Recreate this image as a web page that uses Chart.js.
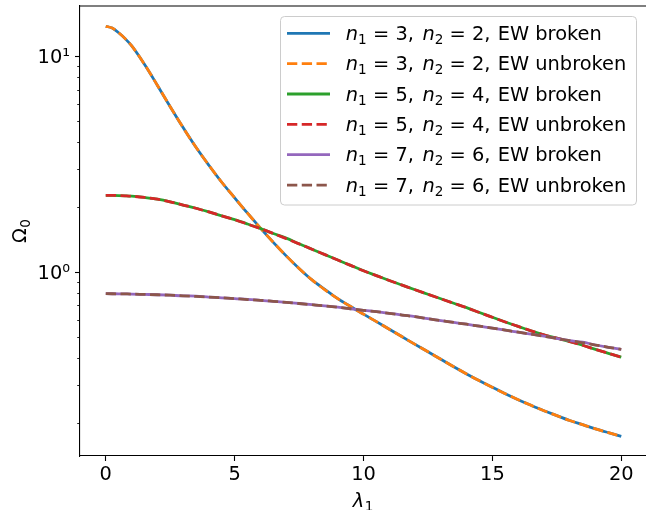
<!DOCTYPE html>
<html>
<head>
<meta charset="utf-8">
<script src="https://cdn.jsdelivr.net/npm/chart.js@4.4.1/dist/chart.umd.min.js"></script>
<style>
html,body{margin:0;padding:0;background:#ffffff;}
#wrap{width:646px;height:510px;position:relative;}
</style>
</head>
<body>
<div id="wrap"><canvas id="c" width="646" height="510"></canvas></div>
<script>
// ---- data ----
const lambda1 = [0,0.25,0.5,0.75,1,1.5,2,2.5,3,3.5,4,4.5,5,5.5,6,6.5,7,7.5,8,8.5,9,9.5,10,10.5,11,11.5,12,12.5,13,13.5,14,14.5,15,15.5,16,16.5,17,17.5,18,18.5,19,19.5,20];

const omegaN3Broken   = [13.8,13.55,12.88,12.1,11.22,9.20,7.36,5.85,4.68,3.79,3.13,2.61,2.21,1.875,1.600,1.374,1.189,1.040,0.920,0.831,0.753,0.692,0.638,0.589,0.543,0.501,0.462,0.427,0.394,0.364,0.337,0.313,0.292,0.273,0.256,0.241,0.2275,0.216,0.205,0.196,0.1875,0.180,0.173];
const omegaN3Unbroken = [13.8,13.55,12.88,12.1,11.22,9.20,7.36,5.85,4.68,3.79,3.13,2.61,2.21,1.875,1.600,1.374,1.189,1.040,0.920,0.828,0.753,0.692,0.638,0.589,0.543,0.501,0.462,0.427,0.394,0.364,0.337,0.313,0.292,0.273,0.256,0.241,0.2275,0.216,0.205,0.196,0.1875,0.180,0.173];
const omegaN5Broken   = [2.270,2.269,2.265,2.258,2.249,2.218,2.178,2.118,2.046,1.977,1.901,1.824,1.750,1.671,1.592,1.510,1.437,1.352,1.276,1.205,1.138,1.074,1.014,0.963,0.914,0.870,0.828,0.789,0.752,0.717,0.684,0.649,0.617,0.587,0.560,0.534,0.512,0.494,0.476,0.458,0.438,0.420,0.403];
const omegaN5Unbroken = [2.270,2.269,2.265,2.258,2.249,2.218,2.178,2.118,2.046,1.977,1.901,1.824,1.750,1.671,1.592,1.510,1.429,1.352,1.276,1.205,1.138,1.074,1.014,0.963,0.914,0.870,0.828,0.789,0.752,0.717,0.684,0.649,0.617,0.587,0.560,0.534,0.512,0.494,0.476,0.458,0.438,0.420,0.403];
const omegaN7Broken   = [0.794,0.7935,0.793,0.792,0.791,0.788,0.785,0.781,0.776,0.774,0.766,0.760,0.753,0.748,0.740,0.732,0.724,0.715,0.706,0.697,0.687,0.676,0.665,0.655,0.644,0.632,0.621,0.608,0.596,0.584,0.573,0.561,0.550,0.538,0.526,0.515,0.504,0.492,0.481,0.473,0.459,0.448,0.438];
const omegaN7Unbroken = [0.794,0.7935,0.793,0.792,0.791,0.788,0.785,0.781,0.776,0.771,0.766,0.760,0.753,0.746,0.740,0.732,0.724,0.715,0.706,0.697,0.687,0.676,0.665,0.655,0.644,0.632,0.621,0.608,0.596,0.584,0.573,0.561,0.550,0.538,0.526,0.515,0.504,0.492,0.481,0.470,0.459,0.448,0.438];

const seriesN1 = [3,3,5,5,7,7];
const seriesN2 = [2,2,4,4,6,6];
const seriesEW = ['broken','unbroken','broken','unbroken','broken','unbroken'];
const seriesLabels = [
  'n\u2081 = 3, n\u2082 = 2, EW broken',
  'n\u2081 = 3, n\u2082 = 2, EW unbroken',
  'n\u2081 = 5, n\u2082 = 4, EW broken',
  'n\u2081 = 5, n\u2082 = 4, EW unbroken',
  'n\u2081 = 7, n\u2082 = 6, EW broken',
  'n\u2081 = 7, n\u2082 = 6, EW unbroken'
];
const seriesValues = [omegaN3Broken, omegaN3Unbroken, omegaN5Broken, omegaN5Unbroken, omegaN7Broken, omegaN7Unbroken];

const xTicks = [0,5,10,15,20];
const xTickLabels = ['0','5','10','15','20'];
const yTicks = [1,10];
const yTickLabels = ['10\u2070','10\u00b9'];
const yMinorTicks = [0.2,0.3,0.4,0.5,0.6,0.7,0.8,0.9,2,3,4,5,6,7,8,9];
const xTitleMain = '\u03bb', xTitleSub = '1';
const yTitleMain = '\u03a9', yTitleSub = '0';

// ---- styling ----
const colors = ['#1f77b4','#ff7f0e','#2ca02c','#d62728','#9467bd','#8c564b'];
const FONT = 'DejaVu Sans';
const FS = 19.4;
const LW = 2.78;
const DASH = [10.3, 4.45];

Chart.defaults.font.family = FONT;
Chart.defaults.color = '#000';

const datasets = seriesValues.map((vals, i) => ({
  label: seriesLabels[i],
  data: lambda1.map((x, j) => ({x: x, y: vals[j]})),
  borderColor: colors[i],
  backgroundColor: colors[i],
  borderWidth: LW,
  borderDash: seriesEW[i] === 'unbroken' ? DASH : [],
  borderCapStyle: 'butt',
  borderJoinStyle: 'round',
  pointRadius: 0,
  pointHoverRadius: 0,
  fill: false,
  cubicInterpolationMode: 'monotone',
  order: -i
}));

const fReg = FS + 'px "' + FONT + '"';
const fIt = 'italic ' + FS + 'px "' + FONT + '"';
const fSub = (FS * 0.7).toFixed(1) + 'px "' + FONT + '"';

function richWidth(ctx, parts) {
  let w = 0;
  parts.forEach(p => { ctx.font = p[0]; w += ctx.measureText(p[1]).width + p[3]; });
  return w;
}
function drawRich(ctx, x, base, parts) {
  parts.forEach(p => {
    ctx.font = p[0];
    ctx.fillText(p[1], x, base + p[2]);
    x += ctx.measureText(p[1]).width + p[3];
  });
}

const extrasPlugin = {
  id: 'extras',
  afterDraw(chart) {
    const ctx = chart.ctx;
    const ca = chart.chartArea;
    const ys = chart.scales.y;
    ctx.save();
    // top spine
    ctx.strokeStyle = '#000';
    ctx.lineWidth = 1.1;
    ctx.beginPath();
    ctx.moveTo(ca.left - 0.55, ca.top);
    ctx.lineTo(ca.right, ca.top);
    ctx.stroke();
    // minor y ticks
    ctx.lineWidth = 0.85;
    yMinorTicks.forEach(v => {
      const p = Math.round(ys.getPixelForValue(v)) + 0.5;
      if (p < ca.top || p > ca.bottom) return;
      ctx.beginPath();
      ctx.moveTo(ca.left - 2.8, p);
      ctx.lineTo(ca.left, p);
      ctx.stroke();
    });
    ctx.fillStyle = '#000';
    ctx.textBaseline = 'alphabetic';
    ctx.textAlign = 'left';
    // axis titles (main glyph + lowered subscript)
    const xParts = [[fIt, xTitleMain, 0, 0.5], [fSub, xTitleSub, 4, 0]];
    const xw = richWidth(ctx, xParts);
    drawRich(ctx, (ca.left + ca.right) / 2 - xw / 2, 506.5, xParts);
    const yParts = [[fReg, yTitleMain, 0, 0.5], [fSub, yTitleSub, 4, 0]];
    const yw = richWidth(ctx, yParts);
    ctx.save();
    ctx.translate(25.5, (ca.top + ca.bottom) / 2 + yw / 2);
    ctx.rotate(-Math.PI / 2);
    drawRich(ctx, 0, 0, yParts);
    ctx.restore();

    // legend
    const bx = ca.right - 9.5 - 356, by = ca.top + 10.5, bw = 356, bh = 188.5, r = 4;
    ctx.beginPath();
    ctx.moveTo(bx + r, by);
    ctx.lineTo(bx + bw - r, by);
    ctx.arcTo(bx + bw, by, bx + bw, by + r, r);
    ctx.lineTo(bx + bw, by + bh - r);
    ctx.arcTo(bx + bw, by + bh, bx + bw - r, by + bh, r);
    ctx.lineTo(bx + r, by + bh);
    ctx.arcTo(bx, by + bh, bx, by + bh - r, r);
    ctx.lineTo(bx, by + r);
    ctx.arcTo(bx, by, bx + r, by, r);
    ctx.closePath();
    ctx.fillStyle = 'rgba(255,255,255,0.8)';
    ctx.fill();
    ctx.strokeStyle = '#cccccc';
    ctx.lineWidth = 1;
    ctx.stroke();

    const thick = 6.2;
    for (let i = 0; i < seriesLabels.length; i++) {
      const ry = by + 16.8 + i * 30.35;
      ctx.strokeStyle = colors[i];
      ctx.lineWidth = LW;
      ctx.lineCap = 'butt';
      ctx.setLineDash(seriesEW[i] === 'unbroken' ? DASH : []);
      ctx.beginPath();
      ctx.moveTo(bx + 6.5, ry);
      ctx.lineTo(bx + 49.5, ry);
      ctx.stroke();
      ctx.setLineDash([]);
      ctx.fillStyle = '#000';
      const parts = [
        [fIt, 'n', 0, 0], [fSub, '1', 4, thick], [fReg, '=', 0, thick], [fReg, String(seriesN1[i]), 0, 0], [fReg, ', ', 0, 2.4],
        [fIt, 'n', 0, 0], [fSub, '2', 4, thick], [fReg, '=', 0, thick], [fReg, String(seriesN2[i]), 0, 0], [fReg, ', ', 0, 1], [fReg, 'EW ' + seriesEW[i], 0, 0]
      ];
      drawRich(ctx, bx + 65.3, ry + 6.5, parts);
    }
    ctx.restore();
  }
};

new Chart(document.getElementById('c'), {
  type: 'line',
  data: { datasets: datasets },
  options: {
    responsive: false,
    animation: false,
    devicePixelRatio: 1,
    layout: { padding: { top: 6, left: 0, right: 0, bottom: 0 } },
    plugins: { legend: { display: false }, tooltip: { enabled: false } },
    scales: {
      x: {
        type: 'linear',
        min: -1,
        max: 20.96,
        afterBuildTicks: s => { s.ticks = xTicks.map(v => ({value: v})); },
        afterFit: s => { s.height = 54; s.paddingLeft = 0; s.paddingRight = 0; },
        ticks: {
          autoSkip: false, maxRotation: 0, padding: 2, color: '#000',
          font: { family: FONT, size: FS },
          callback: (v) => xTickLabels[xTicks.indexOf(v)]
        },
        grid: { display: true, drawOnChartArea: false, drawTicks: true, tickLength: 5, tickWidth: 1.1, tickColor: '#000' },
        border: { display: true, color: '#000', width: 1.1 },
        title: { display: false }
      },
      y: {
        type: 'logarithmic',
        min: 0.1403,
        max: 17.14,
        afterBuildTicks: s => { s.ticks = yTicks.map(v => ({value: v})); },
        afterFit: s => { s.width = 80; s.paddingTop = 0; s.paddingBottom = 0; },
        ticks: {
          autoSkip: false, padding: 5, color: '#000', labelOffset: 1.5,
          font: { family: FONT, size: FS },
          callback: (v) => yTickLabels[yTicks.indexOf(v)]
        },
        grid: { display: true, drawOnChartArea: false, drawTicks: true, tickLength: 5, tickWidth: 1.1, tickColor: '#000' },
        border: { display: true, color: '#000', width: 1.1 },
        title: { display: false }
      }
    }
  },
  plugins: [extrasPlugin]
});
</script>
</body>
</html>
